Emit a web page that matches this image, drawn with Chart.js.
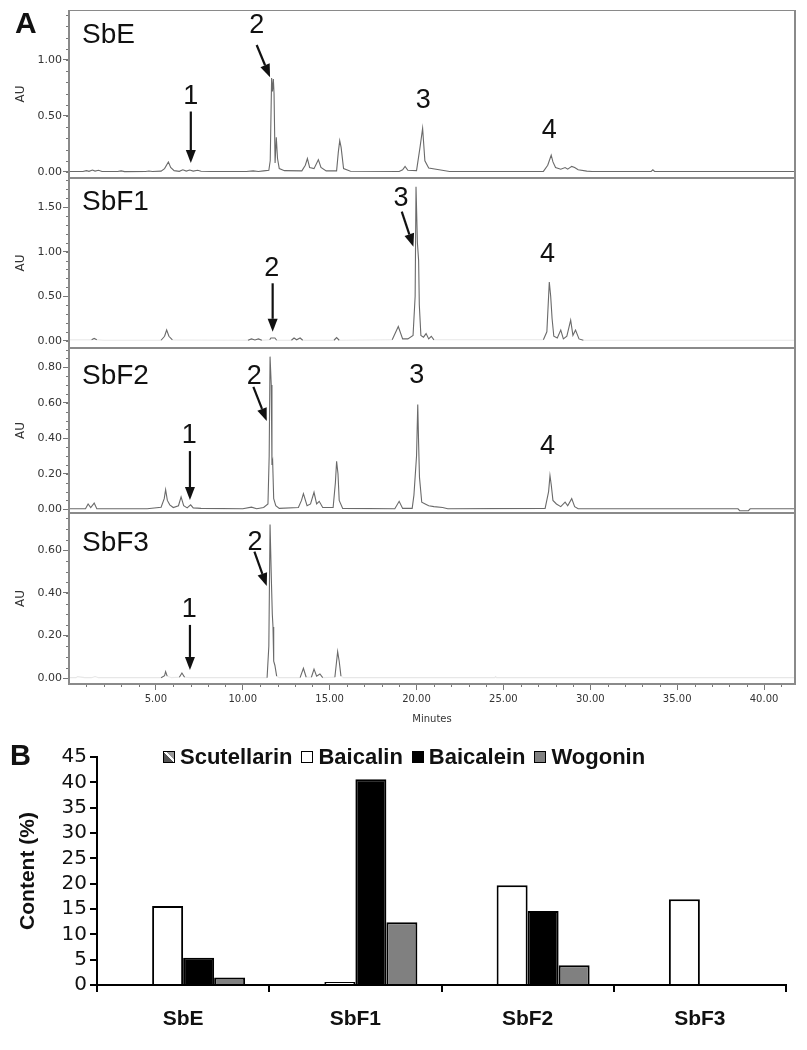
<!DOCTYPE html>
<html>
<head>
<meta charset="utf-8">
<script src="https://cdn.jsdelivr.net/npm/chart.js@4.4.1/dist/chart.umd.min.js"></script>
<style>
  html,body{margin:0;padding:0;background:#fff;}
  body{width:807px;height:1050px;position:relative;overflow:hidden;font-family:"Liberation Sans",Arial,sans-serif;color:#111;}
  canvas{position:absolute;left:0;}
  .txt{position:absolute;white-space:nowrap;z-index:2;}
  .big{font-weight:bold;font-size:30px;line-height:30px;}
  .samp{font-size:28px;line-height:28px;}
  #legend{position:absolute;left:163px;top:746px;height:22px;display:flex;align-items:center;font:bold 22px/22px "Liberation Sans",Arial,sans-serif;z-index:2;}
  .item{display:flex;align-items:center;margin-right:9px;}
  .sw{width:10px;height:10px;border:1.5px solid #000;margin-right:5px;box-sizing:content-box;}
</style>
</head>
<body>
<div class="txt big" style="left:15px;top:8px;">A</div>
<div class="txt big" style="left:10px;top:741px;font-size:29px;line-height:29px;">B</div>
<canvas id="c1" width="807" height="168" style="top:10px;width:807px;height:168px"></canvas>
<canvas id="c2" width="807" height="170" style="top:178px;width:807px;height:170px"></canvas>
<canvas id="c3" width="807" height="165" style="top:348px;width:807px;height:165px"></canvas>
<canvas id="c4" width="807" height="217" style="top:513px;width:807px;height:217px"></canvas>
<canvas id="cB" width="807" height="310" style="top:740px;width:807px;height:310px"></canvas>
<div id="legend"></div>
<script>
// ---------------- DATA ----------------
const sampleNames = ['SbE', 'SbF1', 'SbF2', 'SbF3'];
const timeTicks = [5, 10, 15, 20, 25, 30, 35, 40];
const sbeTicks = [0, 0.5, 1.0];
const sbf1Ticks = [0, 0.5, 1.0, 1.5];
const sbf2Ticks = [0, 0.2, 0.4, 0.6, 0.8];
const sbf3Ticks = [0, 0.2, 0.4, 0.6];

// chromatogram traces: [minutes, AU]
const sbeTrace = [[0,0.004],[0.8,0.004],[1.0,0.012],[1.15,0.006],[1.35,0.018],[1.5,0.008],[1.7,0.015],[1.9,0.004],[2.8,0.004],[3.0,0.01],[3.2,0.003],[4.4,0.004],[4.6,0.009],[4.8,0.004],[5.3,0.008],[5.5,0.03],[5.72,0.09],[5.85,0.04],[6.05,0.012],[6.35,0.006],[6.55,0.02],[6.75,0.008],[6.95,0.018],[7.15,0.008],[7.4,0.015],[7.6,0.006],[8.2,0.005],[10.2,0.004],[10.6,0.01],[10.9,0.004],[11.2,0.01],[11.5,0.015],[11.58,0.1],[11.66,0.84],[11.71,0.72],[11.76,0.83],[11.8,0.7],[11.86,0.08],[11.93,0.31],[12.0,0.12],[12.1,0.03],[12.4,0.012],[13.4,0.01],[13.6,0.06],[13.72,0.12],[13.85,0.04],[14.1,0.03],[14.35,0.11],[14.5,0.04],[14.8,0.01],[15.4,0.01],[15.5,0.18],[15.58,0.28],[15.66,0.22],[15.8,0.03],[16.2,0.006],[19.0,0.005],[19.2,0.02],[19.34,0.05],[19.5,0.015],[20.0,0.012],[20.2,0.22],[20.35,0.39],[20.48,0.1],[20.7,0.035],[21.3,0.02],[21.9,0.005],[27.3,0.005],[27.55,0.06],[27.75,0.15],[27.85,0.09],[28.0,0.04],[28.3,0.025],[28.55,0.04],[28.7,0.025],[28.93,0.05],[29.1,0.04],[29.3,0.02],[29.8,0.008],[30.1,0.005],[33.5,0.005],[33.6,0.02],[33.7,0.005],[41.8,0.005]];
const sbf1Trace = [[0,0.01],[1.3,0.01],[1.45,0.025],[1.6,0.01],[2.0,0.005],[5.3,0.005],[5.5,0.05],[5.62,0.12],[5.75,0.05],[5.95,0.008],[10.3,0.005],[10.5,0.02],[10.7,0.008],[10.9,0.02],[11.1,0.005],[11.55,0.01],[11.62,0.03],[11.85,0.03],[11.95,0.005],[12.8,0.005],[12.95,0.03],[13.1,0.01],[13.3,0.03],[13.45,0.005],[15.25,0.005],[15.4,0.035],[15.55,0.005],[18.6,0.01],[18.95,0.16],[19.2,0.02],[19.5,0.02],[19.8,0.06],[19.92,0.5],[19.97,1.73],[20.05,1.1],[20.12,0.9],[20.16,0.4],[20.25,0.06],[20.4,0.04],[20.55,0.08],[20.7,0.02],[20.85,0.05],[21.0,0.01],[27.3,0.01],[27.5,0.1],[27.64,0.66],[27.72,0.5],[27.8,0.25],[27.9,0.05],[28.1,0.03],[28.3,0.12],[28.45,0.02],[28.65,0.05],[28.87,0.23],[29.0,0.06],[29.15,0.12],[29.35,0.02],[29.6,0.005],[41.8,0.005]];
const sbf2Trace = [[0,0.003],[0.95,0.003],[1.1,0.03],[1.25,0.01],[1.45,0.035],[1.6,0.003],[4.5,0.003],[5.3,0.012],[5.48,0.06],[5.56,0.11],[5.66,0.05],[5.8,0.025],[6.0,0.01],[6.3,0.02],[6.45,0.07],[6.6,0.02],[6.8,0.008],[7.0,0.025],[7.15,0.008],[7.6,0.005],[10.0,0.003],[10.5,0.012],[10.8,0.003],[11.2,0.01],[11.45,0.03],[11.52,0.3],[11.57,0.86],[11.64,0.7],[11.68,0.25],[11.72,0.27],[11.78,0.06],[11.9,0.02],[12.1,0.005],[13.2,0.01],[13.38,0.05],[13.49,0.088],[13.7,0.02],[13.9,0.03],[14.1,0.096],[14.25,0.03],[14.4,0.045],[14.6,0.01],[15.2,0.01],[15.33,0.15],[15.4,0.27],[15.48,0.2],[15.55,0.05],[15.75,0.005],[18.75,0.003],[19.0,0.045],[19.2,0.005],[19.75,0.005],[19.85,0.08],[20.0,0.3],[20.07,0.59],[20.12,0.37],[20.17,0.18],[20.3,0.04],[20.5,0.03],[20.7,0.02],[21.0,0.015],[21.5,0.01],[21.8,0.003],[27.4,0.005],[27.6,0.1],[27.68,0.19],[27.75,0.14],[27.85,0.05],[28.05,0.03],[28.3,0.015],[28.55,0.04],[28.7,0.02],[28.93,0.06],[29.1,0.015],[29.3,0.003],[38.5,0.003],[38.6,-0.008],[39.1,-0.008],[39.2,0.003],[41.8,0.003]];
const sbf3Trace = [[0,0.003],[0.4,0.003],[0.5,0.008],[0.9,0.003],[1.3,0.003],[1.5,0.008],[1.7,0.003],[5.3,0.003],[5.5,0.012],[5.56,0.031],[5.65,0.01],[5.9,0.003],[6.35,0.005],[6.5,0.025],[6.65,0.005],[7.0,0.003],[11.4,0.003],[11.5,0.15],[11.57,0.72],[11.65,0.45],[11.7,0.3],[11.74,0.24],[11.78,0.08],[11.85,0.06],[11.95,0.01],[12.1,0.003],[13.3,0.003],[13.49,0.047],[13.65,0.005],[13.95,0.005],[14.1,0.043],[14.25,0.01],[14.44,0.02],[14.6,0.003],[15.3,0.005],[15.46,0.125],[15.55,0.08],[15.65,0.01],[15.8,0.003],[24.5,0.003],[24.55,0.008],[24.6,0.003],[41.8,0.003]];

// peak labels: label, [minutes, AU] of text, arrow [from t, from AU, to t, to AU]
const sbePeaks = [
  {n:'1', at:[7.01,0.683], arrow:[7.01,0.54,7.01,0.08]},
  {n:'2', at:[10.8,1.32], arrow:[10.8,1.134,11.57,0.846]},
  {n:'3', at:[20.39,0.65]},
  {n:'4', at:[27.64,0.382]}
];
const sbf1Peaks = [
  {n:'2', at:[11.67,0.82], arrow:[11.72,0.645,11.72,0.1]},
  {n:'3', at:[19.1,1.61], arrow:[19.15,1.45,19.82,1.056]},
  {n:'4', at:[27.54,0.98]}
];
const sbf2Peaks = [
  {n:'1', at:[6.92,0.423], arrow:[6.96,0.328,6.96,0.052]},
  {n:'2', at:[10.66,0.754], arrow:[10.61,0.69,11.38,0.497]},
  {n:'3', at:[20.01,0.761]},
  {n:'4', at:[27.54,0.358]}
];
const sbf3Peaks = [
  {n:'1', at:[6.92,0.326], arrow:[6.96,0.25,6.96,0.039]},
  {n:'2', at:[10.7,0.64], arrow:[10.67,0.593,11.38,0.432]}
];

// bar chart (Content %)
const seriesNames = ['Scutellarin', 'Baicalin', 'Baicalein', 'Wogonin'];
const scutellarin = [0, 0, 0, 0];
const baicalin = [15.6, 0.6, 19.7, 16.9];
const baicalein = [5.4, 40.6, 14.6, 0];
const wogonin = [1.5, 12.4, 3.9, 0];
const contentTicks = [0, 5, 10, 15, 20, 25, 30, 35, 40, 45];

// ---------------- RENDER ----------------
const TICK_FONT = {family: '"DejaVu Sans", Verdana, sans-serif', size: 11};

const chromDeco = {
  id: 'chromDeco',
  afterDraw(chart, args, opts) {
    const {ctx, chartArea: a, scales: {x, y}} = chart;
    ctx.save();
    ctx.strokeStyle = '#777';
    ctx.lineWidth = 1;
    const mn = opts.minorY;
    for (let k = Math.ceil(y.min / mn); k * mn <= y.max + 1e-9; k++) {
      const py = Math.round(y.getPixelForValue(k * mn)) + 0.5;
      ctx.beginPath(); ctx.moveTo(a.left - 3, py); ctx.lineTo(a.left, py); ctx.stroke();
    }
    if (opts.minorX) {
      for (let t = 1; t < x.max; t++) {
        if (t % 5 === 0) continue;
        const px = Math.round(x.getPixelForValue(t)) + 0.5;
        ctx.beginPath(); ctx.moveTo(px, a.bottom); ctx.lineTo(px, a.bottom + 3); ctx.stroke();
      }
    }
    ctx.strokeStyle = '#8a8a8a';
    ctx.lineWidth = 2;
    ctx.strokeRect(a.left, a.top, a.right - a.left, a.bottom - a.top);
    ctx.fillStyle = '#111';
    ctx.strokeStyle = '#111';
    ctx.font = '27px "Liberation Sans", Arial, sans-serif';
    ctx.textAlign = 'center';
    ctx.textBaseline = 'middle';
    for (const p of opts.peaks) {
      ctx.fillText(p.n, x.getPixelForValue(p.at[0]), y.getPixelForValue(p.at[1]) + 1);
      if (!p.arrow) continue;
      const x1 = x.getPixelForValue(p.arrow[0]), y1 = y.getPixelForValue(p.arrow[1]);
      const x2 = x.getPixelForValue(p.arrow[2]), y2 = y.getPixelForValue(p.arrow[3]);
      const ang = Math.atan2(y2 - y1, x2 - x1), hl = 13, hw = 5;
      const bx = x2 - hl * Math.cos(ang), by = y2 - hl * Math.sin(ang);
      ctx.lineWidth = 2.2;
      ctx.beginPath(); ctx.moveTo(x1, y1); ctx.lineTo(bx, by); ctx.stroke();
      ctx.beginPath();
      ctx.moveTo(x2, y2);
      ctx.lineTo(bx + hw * Math.sin(ang), by - hw * Math.cos(ang));
      ctx.lineTo(bx - hw * Math.sin(ang), by + hw * Math.cos(ang));
      ctx.closePath(); ctx.fill();
    }
    ctx.restore();
  }
};

function makeChrom(id, trace, yTicks, yMin, yMax, minorY, peaks, showX, faint) {
  const ds = {
    data: trace.map(p => ({x: p[0], y: p[1]})),
    borderColor: '#6a6a6a', borderWidth: 1.1, pointRadius: 0, tension: 0
  };
  if (faint) {
    ds.segment = {
      borderColor: c => (c.p0.parsed.y < 0.012 && c.p1.parsed.y < 0.012) ? 'rgba(120,120,120,0.18)' : undefined
    };
  }
  return new Chart(document.getElementById(id), {
    type: 'line',
    data: {datasets: [ds]},
    options: {
      responsive: false, maintainAspectRatio: false, animation: false, devicePixelRatio: 1,
      layout: {padding: {left: 0, right: 12, top: 0, bottom: 0}},
      plugins: {legend: {display: false}, tooltip: {enabled: false},
        chromDeco: {minorY: minorY, minorX: showX, peaks: peaks}},
      scales: {
        x: {
          type: 'linear', min: 0, max: 41.78, display: showX,
          afterBuildTicks: s => { s.ticks = timeTicks.map(v => ({value: v})); },
          afterFit: s => { s.height = showX ? 46 : 0; s.paddingLeft = 0; s.paddingRight = 0; },
          ticks: {callback: v => Number(v).toFixed(2), font: {family: TICK_FONT.family, size: 10}, color: '#333', padding: 3, maxRotation: 0, autoSkip: false},
          grid: {drawOnChartArea: false, tickLength: 6, color: '#777'},
          border: {display: true, color: '#8a8a8a', width: 2},
          title: {display: true, text: 'Minutes', font: {family: TICK_FONT.family, size: 10}, color: '#333', padding: {top: 0, bottom: 5}}
        },
        y: {
          type: 'linear', min: yMin, max: yMax,
          afterBuildTicks: s => { s.ticks = yTicks.map(v => ({value: v})); },
          afterFit: s => { s.width = 69; s.paddingTop = 0; s.paddingBottom = 0; },
          ticks: {callback: v => Number(v).toFixed(2), font: TICK_FONT, color: '#333', padding: 1, autoSkip: false},
          grid: {drawOnChartArea: false, tickLength: 6, color: '#777'},
          border: {display: true, color: '#8a8a8a', width: 2},
          title: {display: true, text: 'AU', font: {family: TICK_FONT.family, size: 12}, color: '#333', padding: {top: 14, bottom: 0}}
        }
      }
    },
    plugins: [chromDeco]
  });
}

makeChrom('c1', sbeTrace, sbeTicks, -0.0536, 1.4464, 0.1, sbePeaks, false, false);
makeChrom('c2', sbf1Trace, sbf1Ticks, -0.082, 1.828, 0.1, sbf1Peaks, false, true);
makeChrom('c3', sbf2Trace, sbf2Ticks, -0.0208, 0.9087, 0.05, sbf2Peaks, false, false);
makeChrom('c4', sbf3Trace, sbf3Ticks, -0.0267, 0.7742, 0.05, sbf3Peaks, true, true);

const sampTops = [20, 187, 361, 528];
sampleNames.forEach((n, i) => {
  const d = document.createElement('div');
  d.className = 'txt samp';
  d.style.left = '82px';
  d.style.top = sampTops[i] + 'px';
  d.textContent = n;
  document.body.appendChild(d);
});

const barFills = ['#9a9a9a', '#ffffff', '#000000', '#808080'];
const barSeries = [scutellarin, baicalin, baicalein, wogonin];
new Chart(document.getElementById('cB'), {
  type: 'bar',
  data: {
    labels: sampleNames,
    datasets: seriesNames.map((name, i) => ({
      label: name, data: barSeries[i], backgroundColor: barFills[i],
      borderColor: '#000', borderWidth: 2,
      categoryPercentage: 0.72, barPercentage: 1.0
    }))
  },
  options: {
    responsive: false, maintainAspectRatio: false, animation: false, devicePixelRatio: 1,
    layout: {padding: {left: 0, right: 21, top: 17, bottom: 0}},
    plugins: {legend: {display: false}, tooltip: {enabled: false}},
    scales: {
      x: {
        afterFit: s => { s.height = 65; s.paddingLeft = 0; s.paddingRight = 0; },
        ticks: {font: {family: '"Liberation Sans", Arial, sans-serif', size: 21, weight: 'bold'}, color: '#111', padding: 15},
        grid: {drawOnChartArea: false, offset: true, tickLength: 7, color: '#000', lineWidth: 2},
        border: {display: true, color: '#000', width: 2}
      },
      y: {
        min: 0, max: 45,
        afterBuildTicks: s => { s.ticks = contentTicks.map(v => ({value: v})); },
        afterFit: s => { s.width = 97; s.paddingTop = 0; s.paddingBottom = 0; },
        ticks: {font: {family: '"DejaVu Sans", Verdana, sans-serif', size: 20}, color: '#111', padding: 3, autoSkip: false},
        grid: {drawOnChartArea: false, tickLength: 7, color: '#000', lineWidth: 2},
        border: {display: true, color: '#000', width: 2},
        title: {display: true, text: 'Content (%)', font: {family: '"Liberation Sans", Arial, sans-serif', size: 21, weight: 'bold'}, color: '#111', padding: {top: 16, bottom: 0}}
      }
    }
  }
});

const swatchBg = [
  'linear-gradient(45deg, #555 0 46%, #fff 46% 62%, #9a9a9a 62% 100%)',
  '#ffffff', '#000000', '#808080'
];
const leg = document.getElementById('legend');
seriesNames.forEach((n, i) => {
  const it = document.createElement('div');
  it.className = 'item';
  const sw = document.createElement('span');
  sw.className = 'sw';
  sw.style.background = swatchBg[i];
  const tx = document.createElement('span');
  tx.textContent = n;
  it.appendChild(sw); it.appendChild(tx);
  leg.appendChild(it);
});
</script>
</body>
</html>
